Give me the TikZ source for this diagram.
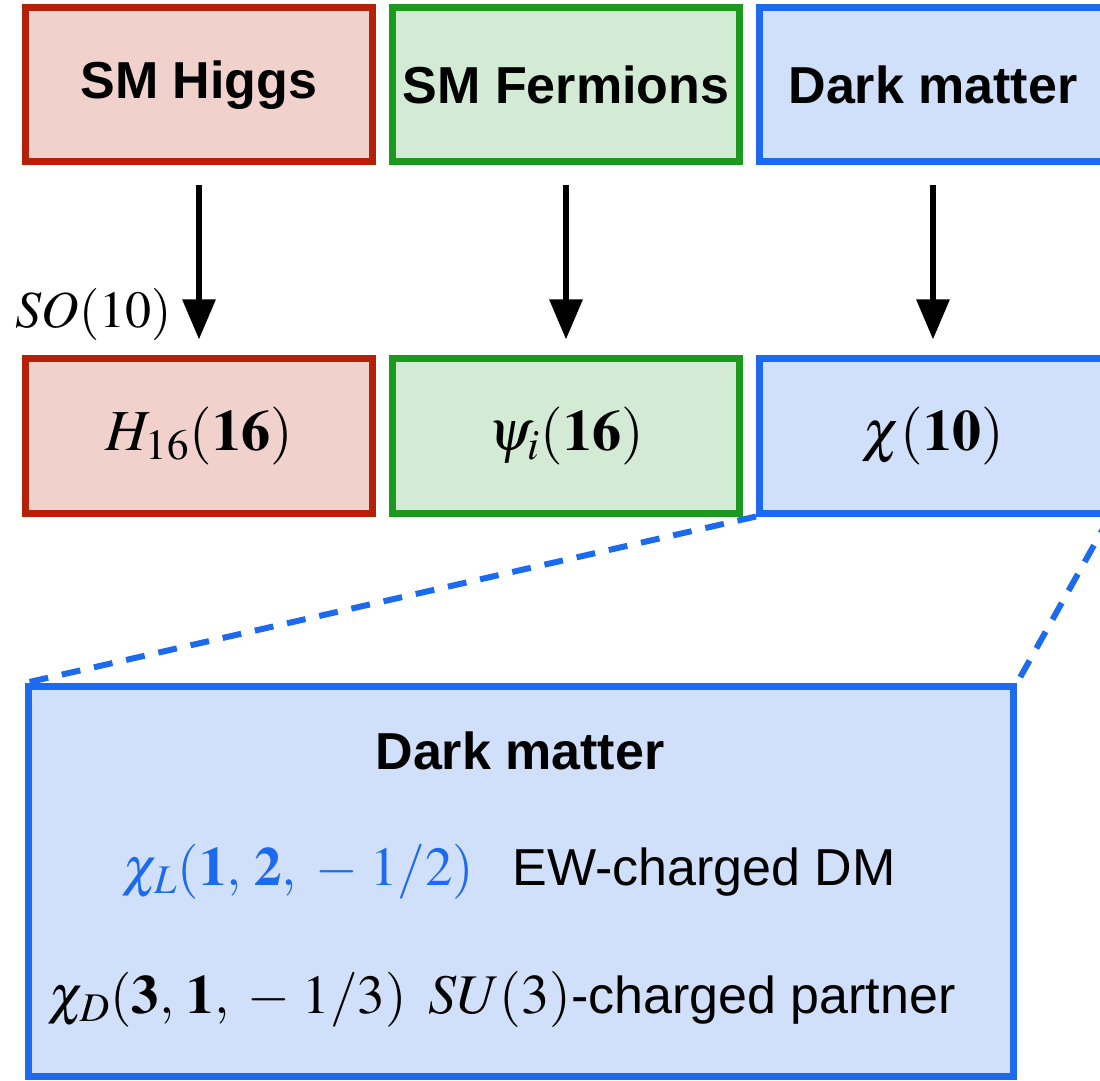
\documentclass[tikz,border=0pt]{standalone}
\usepackage{mathptmx}
\usepackage[no-math]{fontspec}
\setmainfont{Liberation Sans}
\usetikzlibrary{arrows.meta}

\definecolor{higgsred}{HTML}{B52108}
\definecolor{higgsfill}{HTML}{F0D1CC}
\definecolor{fermigreen}{HTML}{1C9A20}
\definecolor{fermifill}{HTML}{D3EAD4}
\definecolor{dmblue}{HTML}{1C6AEE}
\definecolor{dmfill}{HTML}{D0DFFA}

\begin{document}
\begin{tikzpicture}[
			base/.style={draw, line width=3.5pt, minimum width=173.5pt, minimum height=77pt, inner sep=0pt},
			block/.style={base, font=\fontsize{26}{30}\selectfont\bfseries},
			rep/.style={base, font=\fontsize{29}{32}\selectfont},
			higgs/.style={draw=higgsred, fill=higgsfill},
			fermion/.style={draw=fermigreen, fill=fermifill},
			dm/.style={draw=dmblue, fill=dmfill},
			flow/.style={-{Triangle[length=20pt, width=16pt]}, line width=3pt, shorten <=10pt, shorten >=8pt},
			zoomline/.style={dmblue, line width=3pt, dash pattern=on 9.5pt off 7pt},
			label/.style={font=\fontsize{26}{30}\selectfont, anchor=base west, inner sep=0pt},
			mlabel/.style={label, font=\fontsize{27.5}{30}\selectfont},
			node distance=183.5pt,
		]

		\useasboundingbox (0,0) rectangle (550pt,-540.5pt);

		\node[block, higgs] (sm-higgs) at (99.5pt,-42.5pt) {SM Higgs};
		\node[block, fermion, right of=sm-higgs] (sm-fermion) {SM Fermions};
		\node[block, dm, right of=sm-fermion] (dark-matter) {Dark matter};
		\node[rep, higgs, below of=sm-higgs, node distance=175.5pt] (h-16) {$H_{16}(\mathbf{16})$};
		\node[rep, fermion, right of=h-16] (psi-16) {$\psi_i(\mathbf{16})$};
		\node[rep, dm, right of=psi-16] (chi-10) {$\chi(\mathbf{10})$};
		\node[label] (so-10) at (7.5pt,-164pt) {$SO(10)$};

		\draw[flow] (sm-higgs) -- (h-16);
		\draw[flow] (sm-fermion) -- (psi-16);
		\draw[flow] (dark-matter) -- (chi-10);

		\node[base, dm, minimum width=492.5pt, minimum height=195pt] (dm-detail) at (260.5pt,-440.75pt) {};
		\draw[zoomline] (chi-10.south west) -- (dm-detail.north west);
		\draw[zoomline] (chi-10.south east) -- (dm-detail.north east);

		\node[label, font=\fontsize{26}{30}\selectfont\bfseries, anchor=base] (dm-title) at (260pt,-384.5pt) {Dark matter};
		\node[mlabel, text=dmblue] (chi-l) at (61pt,-442.5pt) {$\chi_L(\mathbf{1},\,\mathbf{2},\;-\;1/2)$};
		\node[label] (chi-l-text) at (256pt,-442.5pt) {EW-charged DM};
		\node[mlabel] (chi-d) at (24pt,-506.5pt) {$\chi_D(\mathbf{3},\,\mathbf{1},\;-\;1/3)$};
		\node[label] (chi-d-text) at (214pt,-506.5pt) {{\fontsize{28}{30}\selectfont$SU(3)$}-charged partner};

		\end{tikzpicture}
\end{document}
